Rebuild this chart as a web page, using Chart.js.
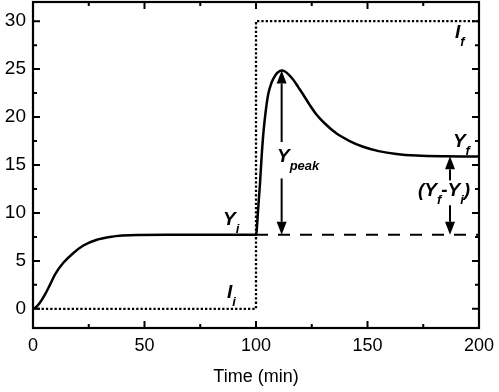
<!DOCTYPE html>
<html>
<head>
<meta charset="utf-8">
<script src="https://cdn.jsdelivr.net/npm/chart.js@4.4.0/dist/chart.umd.min.js"></script>
<style>
  body { margin: 0; background: #fff; }
  #wrap { width: 499px; height: 392px; }
</style>
</head>
<body>
<div id="wrap"><canvas id="myChart"></canvas></div>
<script>
// response curve Y(t)
const curveX = [0, 1, 3, 5.4, 7.6, 9.9, 13.6, 18, 22.6, 28.6, 34.5, 40, 47, 60, 80, 100,
  101, 101.8, 102.5, 103.3, 104.3, 105.5, 107, 108.5, 110, 111.5, 113, 115, 117, 119, 121,
  124, 127, 131, 136, 142, 148, 155, 163, 172, 185, 200];
const curveY = [0, 0.1, 0.6, 1.5, 2.5, 3.6, 4.8, 5.8, 6.6, 7.2, 7.5, 7.65, 7.71, 7.72, 7.72, 7.72,
  10.5, 13.1, 15.8, 18.3, 20.5, 22.4, 23.6, 24.3, 24.7, 24.85, 24.75, 24.35, 23.8, 23.1, 22.4,
  21.3, 20.3, 19.3, 18.3, 17.5, 16.9, 16.45, 16.15, 15.98, 15.9, 15.88];

// input step I(t)
const stepX = [0, 100, 100, 200];
const stepY = [0, 0, 30, 30];

// baseline Yi
const baseX = [100, 200];
const baseY = [7.72, 7.72];

// double arrows (x, from, to)
const arrowX = [111.5, 111.5, 187, 187];
const arrowFrom = [17.4, 13.6, 13.4, 10.8];
const arrowTo = [24.85, 7.72, 15.9, 7.72];

const xTicks = [0, 25, 50, 75, 100, 125, 150, 175, 200];
const xLabels = [0, 50, 100, 150, 200];
const yTicks = [0, 2.5, 5, 7.5, 10, 12.5, 15, 17.5, 20, 22.5, 25, 27.5, 30];
const yLabels = [0, 5, 10, 15, 20, 25, 30];

// text labels: [x, y, parts]
const notes = [
  [109.4, 15.28, [['Y', 0], ['peak', 1]]],
  [172.6, 11.75, [['(', 0], ['Y', 0], ['f', 1], ['-', 0], ['Y', 0], ['i', 1], [')', 0]]],
  [85.2, 8.75, [['Y', 0], ['i', 1]]],
  [87, 1.17, [['I', 0], ['i', 1]]],
  [189.2, 28.25, [['I', 0], ['f', 1]]],
  [188.3, 16.85, [['Y', 0], ['f', 1]]]
];

function zip(xs, ys) {
  return xs.map((x, i) => ({ x: x, y: ys[i] }));
}

const FONT = '"Liberation Sans", Arial, sans-serif';

const framePlugin = {
  id: 'frame',
  afterDatasetsDraw(chart) {
    const c = chart.ctx;
    const xs = chart.scales.x;
    const ys = chart.scales.y;
    c.save();
    c.strokeStyle = '#000';
    c.fillStyle = '#000';
    c.lineWidth = 2;
    // arrows
    for (let i = 0; i < arrowX.length; i++) {
      const px = xs.getPixelForValue(arrowX[i]);
      const p0 = ys.getPixelForValue(arrowFrom[i]);
      const p1 = ys.getPixelForValue(arrowTo[i]);
      const dir = p1 > p0 ? 1 : -1;
      const head = 13;
      c.beginPath();
      c.moveTo(px, p0);
      c.lineTo(px, p1 - dir * head);
      c.stroke();
      c.beginPath();
      c.moveTo(px, p1);
      c.lineTo(px - 5, p1 - dir * head);
      c.lineTo(px + 5, p1 - dir * head);
      c.closePath();
      c.fill();
    }
    // labels
    c.textBaseline = 'alphabetic';
    c.textAlign = 'left';
    notes.forEach(n => {
      let px = xs.getPixelForValue(n[0]);
      const py = ys.getPixelForValue(n[1]);
      n[2].forEach(p => {
        if (p[1]) {
          c.font = 'italic bold 13px ' + FONT;
          c.fillText(p[0], px, py + 8);
        } else {
          c.font = 'italic bold 19px ' + FONT;
          c.fillText(p[0], px, py);
        }
        px += c.measureText(p[0]).width;
      });
    });
    c.restore();
  },
  afterDraw(chart) {
    const c = chart.ctx;
    const a = chart.chartArea;
    const xs = chart.scales.x;
    const ys = chart.scales.y;
    c.save();
    c.strokeStyle = '#000';
    c.lineWidth = 2.2;
    c.strokeRect(a.left, a.top, a.right - a.left, a.bottom - a.top);
    c.lineWidth = 2;
    c.beginPath();
    xTicks.forEach(v => {
      const px = xs.getPixelForValue(v);
      const len = xLabels.includes(v) ? 7 : 4;
      c.moveTo(px, a.bottom); c.lineTo(px, a.bottom - len);
      c.moveTo(px, a.top); c.lineTo(px, a.top + len);
    });
    yTicks.forEach(v => {
      const py = ys.getPixelForValue(v);
      const len = yLabels.includes(v) ? 7 : 4;
      c.moveTo(a.left, py); c.lineTo(a.left + len, py);
      c.moveTo(a.right, py); c.lineTo(a.right - len, py);
    });
    c.stroke();
    c.restore();
  }
};

const ctx = document.getElementById('myChart');

new Chart(ctx, {
  type: 'line',
  data: {
    datasets: [{
      data: zip(curveX, curveY),
      borderColor: '#000',
      borderWidth: 2.5,
      pointRadius: 0,
      cubicInterpolationMode: 'monotone'
    }, {
      data: zip(stepX, stepY),
      borderColor: '#000',
      borderWidth: 2.3,
      borderDash: [2.3, 2],
      pointRadius: 0
    }, {
      data: zip(baseX, baseY),
      borderColor: '#000',
      borderWidth: 2,
      borderDash: [12, 10],
      pointRadius: 0
    }]
  },
  options: {
    responsive: true,
    maintainAspectRatio: false,
    animation: false,
    layout: { padding: { left: 0, top: 2, right: 20, bottom: 0 } },
    plugins: { legend: { display: false }, tooltip: { enabled: false } },
    scales: {
      x: {
        type: 'linear',
        min: 0,
        max: 200,
        afterBuildTicks: s => { s.ticks = xTicks.map(v => ({ value: v })); },
        afterFit: s => { s.height = 64; s.paddingLeft = 0; s.paddingRight = 0; },
        grid: { display: false, drawTicks: false },
        border: { display: false },
        ticks: {
          autoSkip: false,
          maxRotation: 0,
          padding: 7,
          color: '#000',
          font: { family: FONT, size: 18 },
          callback: v => xLabels.includes(v) ? String(v) : ''
        },
        title: {
          display: true,
          text: 'Time (min)',
          color: '#000',
          font: { family: FONT, size: 18 },
          padding: { top: 0, bottom: 4 }
        }
      },
      y: {
        type: 'linear',
        min: -2,
        max: 32,
        afterBuildTicks: s => { s.ticks = yTicks.map(v => ({ value: v })); },
        afterFit: s => { s.width = 33; s.paddingTop = 0; s.paddingBottom = 0; },
        grid: { display: false, drawTicks: false },
        border: { display: false },
        ticks: {
          autoSkip: false,
          padding: 7,
          color: '#000',
          font: { family: FONT, size: 19 },
          callback: v => yLabels.includes(v) ? String(v) : ''
        }
      }
    }
  },
  plugins: [framePlugin]
});
</script>
</body>
</html>
